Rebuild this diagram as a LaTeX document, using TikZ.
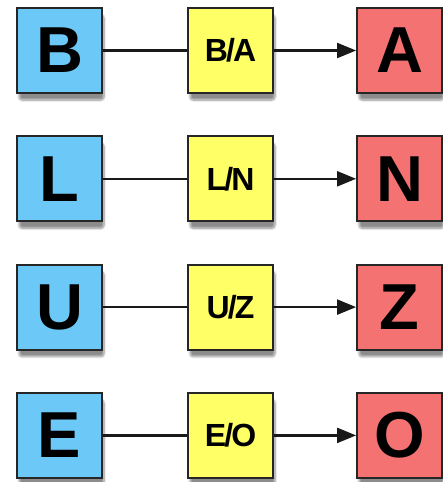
\documentclass[tikz,border=0pt]{standalone}
\usepackage{fontspec}
\setmainfont{Liberation Sans}
\usetikzlibrary{shadows.blur,arrows.meta}
\definecolor{cblue}{HTML}{6CC8F6}
\definecolor{cyellow}{HTML}{FFFF66}
\definecolor{cred}{HTML}{F57272}
\tikzset{
  box/.style={draw=black!85, line width=1.8pt, minimum size=85pt, inner sep=0pt,
    blur shadow={shadow blur steps=8, shadow blur extra rounding=3pt, shadow xshift=2pt, shadow yshift=-7pt, shadow opacity=45}},
  srcbox/.style={box, fill=cblue, font=\fontsize{65}{65}\selectfont\bfseries},
  keybox/.style={box, fill=cyellow, font=\fontsize{32}{32}\selectfont\bfseries},
  dstbox/.style={box, fill=cred, font=\fontsize{65}{65}\selectfont\bfseries},
  link/.style={line width=2.2pt, draw=black!90},
  arr/.style={link, -{Triangle[length=19pt,width=15pt]}}
}
\begin{document}
\begin{tikzpicture}[x=1pt,y=-1pt]
\useasboundingbox (0,0) rectangle (443,482);
\foreach \s/\d [count=\i from 0] in {B/A, L/N, U/Z, E/O}{
  \pgfmathsetmacro{\yy}{50.5+128.3*\i}
  \node[srcbox] (s\i) at (59.5,\yy) {\s};
  \node[keybox] (k\i) at (230.5,\yy) {\s\kern-0.06em/\kern-0.06em\d};
  \node[dstbox] (d\i) at (399.5,\yy) {\d};
  \draw[link] (s\i) -- (k\i);
  \draw[arr] (k\i) -- (d\i);
}
\end{tikzpicture}
\end{document}
